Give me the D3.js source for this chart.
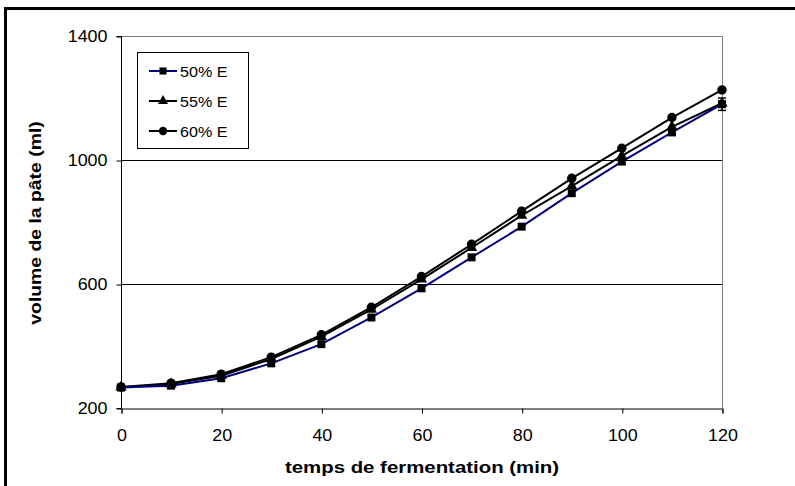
<!DOCTYPE html>
<html><head><meta charset="utf-8">
<script src="https://cdn.jsdelivr.net/npm/d3@7"></script>
<style>body{margin:0;background:#fff}svg{display:block}text{font-family:Arial,"Liberation Sans",sans-serif}</style>
</head><body><svg id="c" width="795" height="486"></svg>
<script>
const times = [0,10,20,30,40,50,60,70,80,90,100,110,120];
const e50 = [266,272,296,344,406,492,586,686,785,893,995,1089,1180];
const e55 = [267,277,304,358,430,518,615,717,821,916,1013,1107,1183];
const e60 = [268,280,309,364,436,525,624,728,835,941,1038,1137,1226];
const err50 = [0,0,0,0,0,0,0,0,0,0,0,0,20];
const seriesNames = ["50% E","55% E","60% E"];
const xTicks = [0,20,40,60,80,100,120];
const yTicks = [200,600,1000,1400];

const svg = d3.select("#c");
svg.append("rect").attr("x",5.5).attr("y",8.5).attr("width",820).attr("height",500)
  .attr("fill","#fff").attr("stroke","#000").attr("stroke-width",3);

const x = d3.scaleLinear().domain([0,120]).range([121,722]);
const y = d3.scaleLinear().domain([200,1400]).range([408,36]);

// gridlines
svg.append("g").selectAll("line").data([600,1000]).join("line")
  .attr("x1",x(0)).attr("x2",x(120)).attr("y1",d=>y(d)+0.5).attr("y2",d=>y(d)+0.5)
  .attr("stroke","#000").attr("stroke-width",1);
// plot frame top/right
svg.append("line").attr("x1",x(0)).attr("x2",x(120)).attr("y1",y(1400)+0.5).attr("y2",y(1400)+0.5).attr("stroke","#808080");
svg.append("line").attr("x1",x(120)+0.5).attr("x2",x(120)+0.5).attr("y1",y(1400)).attr("y2",y(200)).attr("stroke","#808080");

const sx = 1.12;
const yAxis = d3.axisLeft(y).tickValues(yTicks).tickSize(5).tickPadding(9).tickFormat(d3.format("d"));
const gy = svg.append("g").attr("transform",`translate(${x(0)+0.5},0.5)`).call(yAxis);
const xAxis = d3.axisBottom(x).tickValues(xTicks).tickSize(5).tickPadding(16).tickFormat(d3.format("d"));
const gx = svg.append("g").attr("transform",`translate(0.5,${y(200)+0.5})`).call(xAxis);
[gy,gx].forEach(g=>{
  g.selectAll("path").attr("stroke","#000");
  g.selectAll("line").attr("stroke","#000");
  g.selectAll("text").attr("font-size",16).attr("fill","#000").attr("font-family","Arial, Liberation Sans, sans-serif")
    .attr("transform",`scale(${sx},1)`);
});
gy.selectAll("text").attr("x",-14/sx);
gy.select(".domain").attr("d",`M-5,${y(1400)}H0V${y(200)}H-5`);

svg.append("text").attr("transform","translate(422,473) scale(1.2,1)").attr("text-anchor","middle")
  .attr("font-size",17).attr("font-weight","bold").text("temps de fermentation (min)");
svg.append("text").attr("transform","translate(41,223) rotate(-90) scale(1.14,1)").attr("text-anchor","middle")
  .attr("font-size",17).attr("font-weight","bold").text("volume de la pâte (ml)");

const series = [
  {name:seriesNames[2], vals:e60, color:"#000", sym:d3.symbolCircle, size:70},
  {name:seriesNames[1], vals:e55, color:"#000", sym:d3.symbolTriangle, size:55},
  {name:seriesNames[0], vals:e50, color:"#000080", sym:d3.symbolSquare, size:64, err:err50}
];
const line = d3.line().x((d,i)=>x(times[i])).y(d=>y(d));
series.forEach(s=>{
  svg.append("path").datum(s.vals).attr("d",line).attr("fill","none")
    .attr("stroke",s.color).attr("stroke-width",2);
});
series.forEach(s=>{
  if(s.err){
    const g = svg.append("g");
    s.vals.forEach((v,i)=>{
      if(!s.err[i]) return;
      const cx = x(times[i]);
      g.append("line").attr("x1",cx).attr("x2",cx).attr("y1",y(v+s.err[i])).attr("y2",y(v-s.err[i])).attr("stroke","#000").attr("stroke-width",1.5);
      g.append("line").attr("x1",cx-4).attr("x2",cx+4).attr("y1",y(v+s.err[i])).attr("y2",y(v+s.err[i])).attr("stroke","#000").attr("stroke-width",1.5);
      g.append("line").attr("x1",cx-4).attr("x2",cx+4).attr("y1",y(v-s.err[i])).attr("y2",y(v-s.err[i])).attr("stroke","#000").attr("stroke-width",1.5);
    });
  }
  svg.append("g").selectAll("path").data(s.vals).join("path")
    .attr("transform",(d,i)=>`translate(${x(times[i])},${y(d)})`)
    .attr("d",d3.symbol().type(s.sym).size(s.size)).attr("fill","#000");
});

// legend
const lg = svg.append("g");
lg.append("rect").attr("x",137.5).attr("y",52.5).attr("width",111).attr("height",96)
  .attr("fill","#fff").attr("stroke","#000").attr("stroke-width",1);
const legItems = [
  {name:seriesNames[0], color:"#000080", sym:d3.symbolSquare, size:50},
  {name:seriesNames[1], color:"#000", sym:d3.symbolTriangle, size:45},
  {name:seriesNames[2], color:"#000", sym:d3.symbolCircle, size:55}
];
legItems.forEach((it,i)=>{
  const yy = 71 + i*30;
  lg.append("line").attr("x1",149).attr("x2",177).attr("y1",yy).attr("y2",yy).attr("stroke",it.color).attr("stroke-width",2);
  lg.append("path").attr("transform",`translate(163,${yy})`).attr("d",d3.symbol().type(it.sym).size(it.size)).attr("fill","#000");
  lg.append("text").attr("transform",`translate(180,${yy+5.5}) scale(1.04,1)`).attr("font-size",15.5).text(it.name);
});
</script></body></html>
